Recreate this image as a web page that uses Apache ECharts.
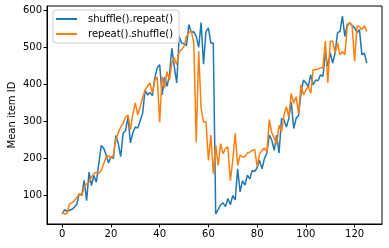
<!DOCTYPE html>
<html>
<head>
<meta charset="utf-8">
<script src="https://cdn.jsdelivr.net/npm/echarts@6/dist/echarts.min.js"></script>
<style>html,body{margin:0;padding:0;background:#fff}#c{width:389px;height:248px}</style>
</head>
<body>
<div id="c"></div>
<script>
var seriesNames = ['shuffle().repeat()', 'repeat().shuffle()'];
var shuffleRepeat = [50,62,57,60,63,68,77,105,100,141,86,163,127,154,136,186,235,228,210,188,
205,200,262,240,205,268,275,312,242,270,285,282,302,322,385,372,378,370,418,445,
453,372,420,395,425,498,448,404,530,512,510,505,562,540,543,530,500,567,455,543,
553,512,512,50,62,75,80,70,92,75,100,88,172,110,140,128,155,145,168,165,
175,195,172,200,215,263,250,222,263,215,308,305,285,308,353,281,308,317,376,412,
404,394,426,399,412,410,426,422,485,449,485,458,485,540,543,585,530,562,566,559,
553,540,548,480,485,458];
var repeatShuffle = [55,50,52,77,80,86,95,105,100,123,132,135,150,159,163,159,168,186,203,208,
200,210,250,270,285,295,312,317,278,320,350,318,340,364,385,395,404,377,412,420,
298,421,390,435,412,458,472,453,488,494,503,530,540,545,512,243,490,336,299,299,
195,263,159,236,181,240,213,227,231,140,195,268,181,209,204,205,215,217,222,225,
178,212,222,228,218,305,270,255,238,290,272,317,340,312,376,350,367,322,399,372,
385,395,376,440,440,442,445,445,517,404,517,517,485,512,480,489,480,557,568,559,
462,557,557,548,559,543];
var xTicks = [0,20,40,60,80,100,120];
var yTicks = [100,200,300,400,500,600];
var yLabel = 'Mean item ID';

var xs = shuffleRepeat.map(function(_, i){ return i; });
var chart = echarts.init(document.getElementById('c'));
var font = 'DejaVu Sans';
chart.setOption({
  animation: false,
  grid: {left: 47, top: 6, right: 7, bottom: 24, outerBoundsMode: 'none', containLabel: false,
         show: true, borderColor: '#000', borderWidth: 1, backgroundColor: 'transparent'},
  legend: {
    left: 53, top: 10, orient: 'vertical', icon: 'rect', itemWidth: 21, itemHeight: 2, itemGap: 5,
    padding: [4, 6, 4, 3], backgroundColor: 'rgba(255,255,255,0.8)', borderColor: '#ccc', borderWidth: 1, borderRadius: 3,
    textStyle: {fontFamily: font, fontSize: 10, color: '#000', padding: [0,0,0,6]},
    data: seriesNames
  },
  xAxis: {
    type: 'value', min: -6.25, max: 131.25,
    splitLine: {show: false},
    axisLine: {show: true, onZero: false, lineStyle: {color: '#000'}},
    axisTick: {show: true, length: 3.5, lineStyle: {color: '#000'}, customValues: xTicks},
    axisLabel: {fontFamily: font, fontSize: 10, color: '#000', margin: 5, customValues: xTicks}
  },
  yAxis: {
    type: 'value', min: 23, max: 612,
    name: yLabel, nameLocation: 'middle', nameGap: 30, nameRotate: 90, nameMoveOverlap: false,
    nameTextStyle: {fontFamily: font, fontSize: 10, color: '#000'},
    splitLine: {show: false},
    axisLine: {show: true, onZero: false, lineStyle: {color: '#000'}},
    axisTick: {show: true, length: 3.5, lineStyle: {color: '#000'}, customValues: yTicks},
    axisLabel: {fontFamily: font, fontSize: 10, color: '#000', margin: 5, customValues: yTicks}
  },
  series: [
    {name: seriesNames[0], type: 'line', symbol: 'none', color: '#1f77b4', lineStyle: {width: 1.5},
     data: xs.map(function(x, i){ return [x, shuffleRepeat[i]]; })},
    {name: seriesNames[1], type: 'line', symbol: 'none', color: '#ff7f0e', lineStyle: {width: 1.5},
     data: xs.map(function(x, i){ return [x, repeatShuffle[i]]; })}
  ]
});
</script>
</body>
</html>
